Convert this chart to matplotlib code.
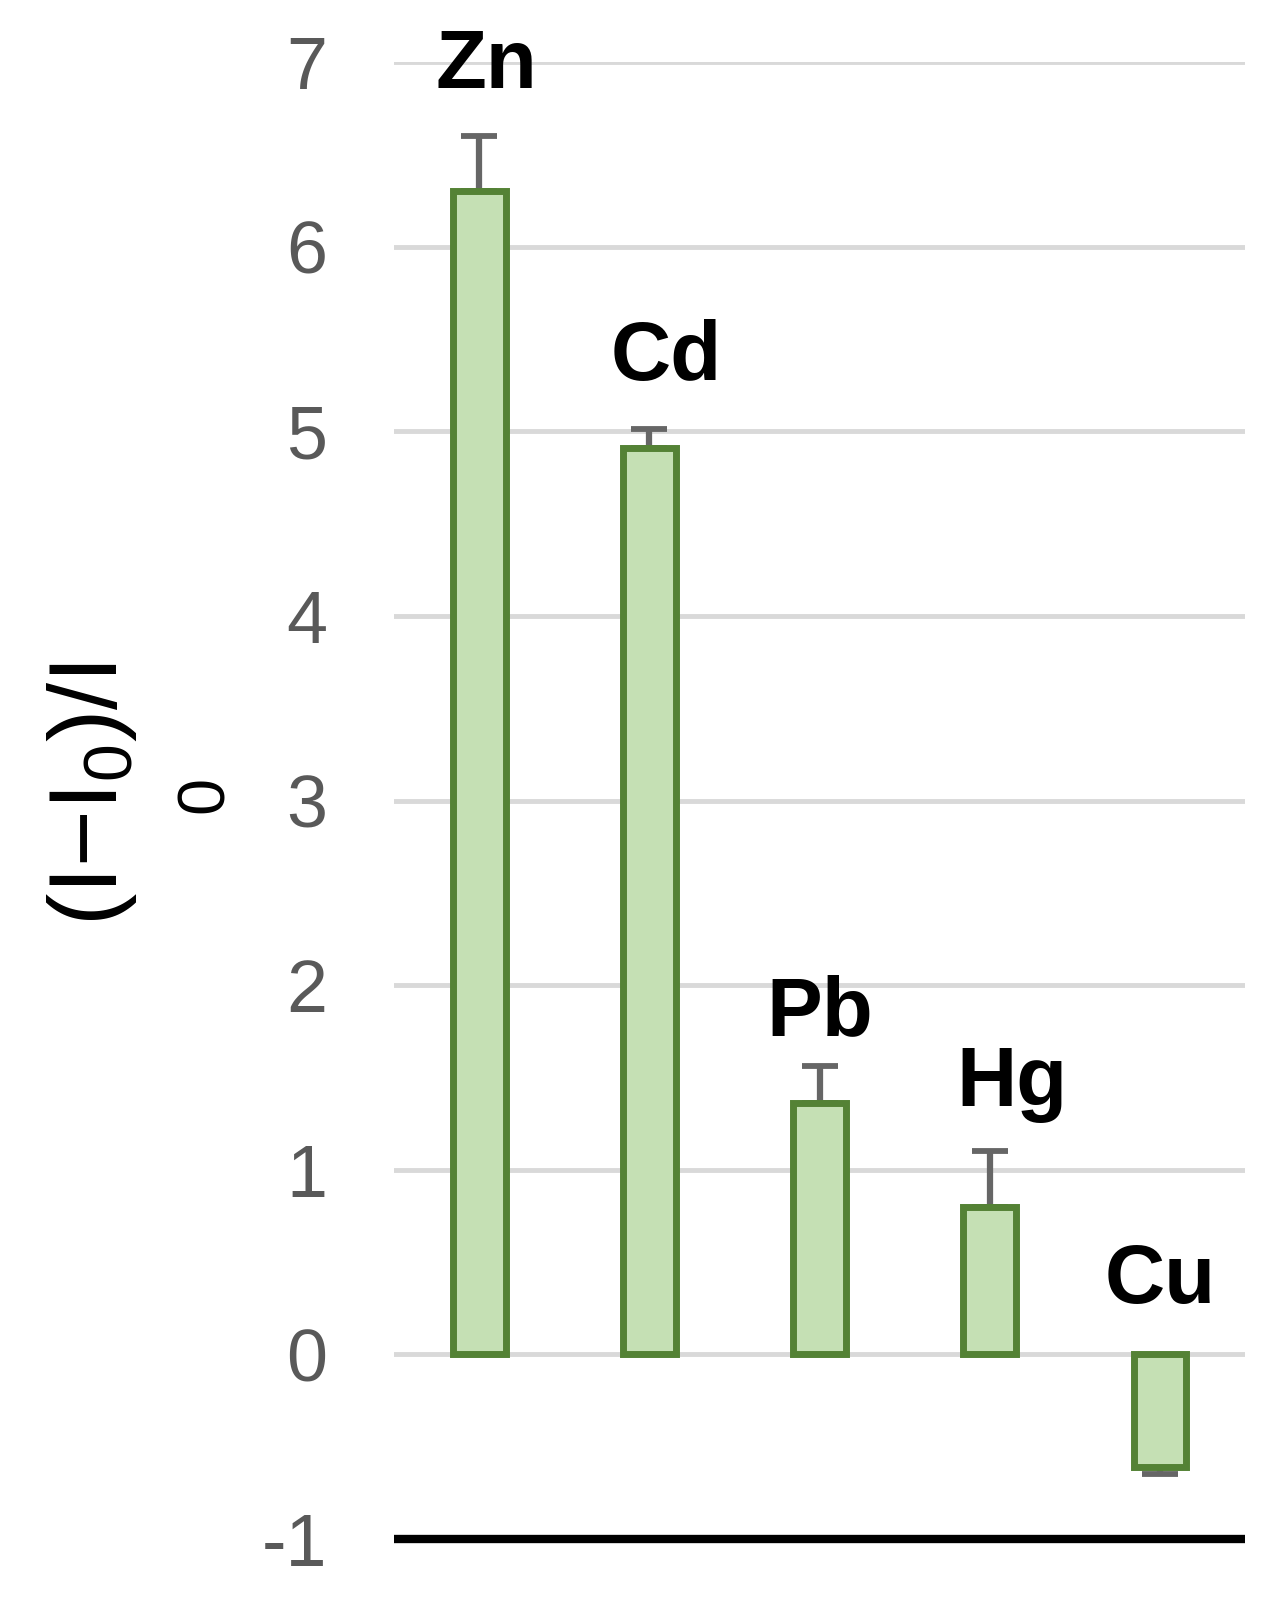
import matplotlib
matplotlib.use("Agg")
import matplotlib.pyplot as plt
import numpy as np

plt.rcParams['font.family'] = ['Liberation Sans', 'DejaVu Sans']
plt.rcParams['mathtext.fontset'] = 'custom'
plt.rcParams['mathtext.rm'] = 'Liberation Sans'
plt.rcParams['mathtext.it'] = 'Liberation Sans'

# data
metals = ['Zn', 'Cd', 'Pb', 'Hg', 'Cu']
response = [6.30, 4.91, 1.36, 0.80, -0.61]
error = [0.30, 0.10, 0.20, 0.30, 0.04]
y_ticks = [-1, 0, 1, 2, 3, 4, 5, 6, 7]

# label placement (layout only)
label_dx = [0.04, 0.10, 0.0, 0.13, 0.0]
label_dy = [0.26, 0.27, 0.17, 0.245, 0.28]

fig = plt.figure(figsize=(12.84, 16.04), dpi=100)
ax = fig.add_axes([0.3069, 0.0405, 0.6628, 0.9208])

x = np.arange(len(metals))
ax.bar(x, response, width=0.31, color='#c5e0b4', edgecolor='#548235',
       linewidth=5, zorder=3)

# one-sided error bars, away from zero
lower = [e if v < 0 else 0 for v, e in zip(response, error)]
upper = [0 if v < 0 else e for v, e in zip(response, error)]
ax.errorbar(x, response, yerr=[lower, upper], fmt='none', ecolor='#666666',
            elinewidth=4.5, capsize=13, capthick=4.2, zorder=2)

for i, name in enumerate(metals):
    top = max(response[i] + upper[i], 0)
    ax.text(x[i] + label_dx[i], top + label_dy[i], name, ha='center',
            va='baseline', fontsize=60, fontweight='bold', color='black')

ax.set_xlim(-0.5, len(metals) - 0.5)
ax.set_ylim(-1, 7)
ax.set_yticks(y_ticks)
ax.set_yticklabels([str(t) for t in y_ticks])
ax.set_xticks([])
ax.tick_params(axis='y', length=0, pad=48, labelsize=53, labelcolor='#595959')
ax.grid(axis='y', color='#d9d9d9', linewidth=3.5, zorder=0)
ax.set_axisbelow(True)
for side in ['top', 'right', 'left']:
    ax.spines[side].set_visible(False)
ax.spines['bottom'].set_color('black')
ax.spines['bottom'].set_linewidth(6)
ax.spines['bottom'].set_capstyle('butt')

# y label, with the trailing subscript wrapped onto its own line
fig.text(0.072, 0.505, '(I\u2212I$_0$)/I', rotation=90,
         ha='center', va='center', fontsize=70, color='black')
fig.text(0.160, 0.505, '0', rotation=90, ha='center', va='center',
         fontsize=48, color='black')

fig.savefig('out.png', dpi=100)
